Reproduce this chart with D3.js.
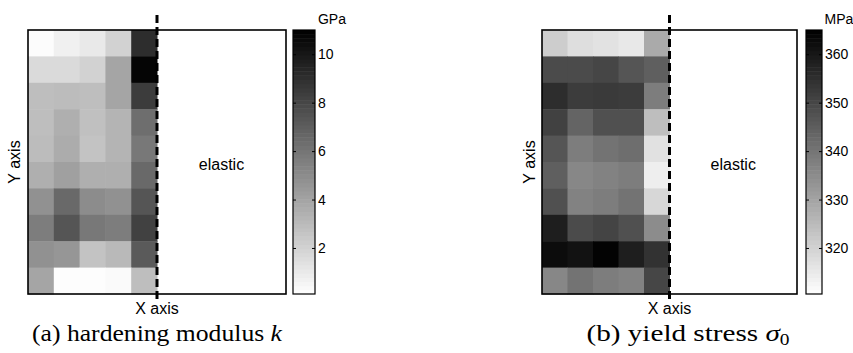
<!DOCTYPE html>
<html>
<head>
<meta charset="utf-8">
<script src="https://cdn.jsdelivr.net/npm/d3@7"></script>
<style>
  html, body { margin: 0; padding: 0; background: #fff; }
  svg { display: block; }
</style>
</head>
<body>
<svg id="chart" width="853" height="353"></svg>
<script>
// hardening modulus k [GPa], rows top -> bottom, 5 columns each
const kValues = [
  [0.23, 0.74, 1.04, 2.02, 9.08],
  [1.68, 1.68, 2.02, 3.95, 10.79],
  [2.88, 2.96, 2.88, 3.95, 8.44],
  [2.88, 3.52, 2.79, 3.31, 6.30],
  [2.96, 3.65, 2.66, 3.31, 5.87],
  [3.52, 4.16, 3.52, 3.52, 6.51],
  [4.80, 6.51, 5.02, 4.80, 7.37],
  [5.66, 7.37, 5.87, 5.66, 8.22],
  [4.80, 4.59, 2.66, 3.09, 7.15],
  [3.95, 0.19, 0.19, 0.31, 2.88]
];
// yield stress sigma_0 [MPa]
const sigmaValues = [
  [321.2, 317.6, 316.7, 315.4, 328.7],
  [349.0, 349.0, 350.0, 346.8, 344.7],
  [355.4, 352.2, 352.6, 352.2, 338.3],
  [351.1, 343.6, 347.9, 347.9, 324.4],
  [346.8, 338.3, 340.4, 341.5, 316.9],
  [344.7, 336.1, 337.2, 338.3, 314.1],
  [347.9, 337.2, 338.3, 340.4, 319.0],
  [358.6, 349.0, 350.5, 347.9, 335.1],
  [362.4, 361.1, 364.4, 358.6, 354.3],
  [336.1, 340.4, 338.3, 337.2, 350.0]
];
const kTicks = [2, 4, 6, 8, 10];
const sigmaTicks = [320, 330, 340, 350, 360];
const kRange = [0.1, 11];
const sigmaRange = [310.5, 365];

const panels = [
  {data: kValues, range: kRange, ticks: kTicks, unit: "GPa", left: 28, right: 286, cbLeft: 293, cbRight: 315,
   caption: ["(a) hardening modulus ", "k", ""], capX: 157, capWidth: 250, ylab: 20},
  {data: sigmaValues, range: sigmaRange, ticks: sigmaTicks, unit: "MPa", left: 542, right: 797, cbLeft: 806, cbRight: 822,
   caption: ["(b) yield stress ", "σ", "0"], capX: 688, capWidth: 203, ylab: 535}
];

const plotTop = 30, plotBottom = 294;
const sans = "'Liberation Sans', Arial, sans-serif";
const serif = "'Liberation Serif', 'DejaVu Serif', serif";

const svg = d3.select("#chart");

panels.forEach(p => {
  const g = svg.append("g");
  const x = d3.scaleLinear().domain([0, 10]).range([p.left, p.right]);
  const y = d3.scaleLinear().domain([0, 10]).range([plotTop, plotBottom]);
  const color = d3.scaleLinear().domain(p.range).range(["#ffffff", "#000000"]).clamp(true);

  // heatmap cells
  const cells = p.data.flatMap((row, r) => row.map((v, c) => ({r, c, v})));
  g.selectAll("rect.cell")
    .data(cells)
    .join("rect")
    .attr("class", "cell")
    .attr("x", d => x(d.c))
    .attr("y", d => y(d.r))
    .attr("width", x(1) - x(0) + 0.5)
    .attr("height", y(1) - y(0) + 0.5)
    .attr("fill", d => color(d.v));

  // box
  g.append("rect")
    .attr("x", p.left).attr("y", plotTop)
    .attr("width", p.right - p.left).attr("height", plotBottom - plotTop)
    .attr("fill", "none").attr("stroke", "#000").attr("stroke-width", 1.6);

  // dashed boundary at x = 5
  g.append("line")
    .attr("x1", x(5)).attr("x2", x(5))
    .attr("y1", 15).attr("y2", plotBottom + 6)
    .attr("stroke", "#000").attr("stroke-width", 3)
    .attr("stroke-dasharray", "8,4");

  g.append("text")
    .attr("x", (x(5) + x(10)) / 2).attr("y", 170)
    .attr("text-anchor", "middle")
    .style("font", `16px ${sans}`)
    .text("elastic");

  // axis labels
  g.append("text")
    .attr("x", x(5)).attr("y", 314)
    .attr("text-anchor", "middle")
    .style("font", `16px ${sans}`)
    .text("X axis");
  g.append("text")
    .attr("transform", `translate(${p.ylab},${y(5)}) rotate(-90)`)
    .attr("text-anchor", "middle")
    .style("font", `16px ${sans}`)
    .text("Y axis");

  // colorbar
  const cy = d3.scaleLinear().domain(p.range).range([plotBottom, plotTop]);
  const step = (p.range[1] - p.range[0]) / 64;
  const levels = d3.range(64).map(i => p.range[0] + (i + 0.5) * step);
  g.selectAll("rect.cb")
    .data(levels)
    .join("rect")
    .attr("class", "cb")
    .attr("x", p.cbLeft)
    .attr("y", d => cy(d + step / 2))
    .attr("width", p.cbRight - p.cbLeft)
    .attr("height", cy(p.range[0]) - cy(p.range[0] + step) + 0.5)
    .attr("fill", d => color(d));
  g.append("rect")
    .attr("x", p.cbLeft).attr("y", plotTop)
    .attr("width", p.cbRight - p.cbLeft).attr("height", plotBottom - plotTop)
    .attr("fill", "none").attr("stroke", "#000").attr("stroke-width", 1.2);

  g.append("g")
    .attr("transform", `translate(${p.cbRight},0)`)
    .call(d3.axisRight(cy).tickValues(p.ticks).tickSize(-3).tickPadding(3))
    .call(a => a.select(".domain").remove())
    .call(a => a.selectAll("text").style("font", `14px ${sans}`).attr("fill", "#000"));
  g.append("g")
    .attr("transform", `translate(${p.cbLeft},0)`)
    .call(d3.axisLeft(cy).tickValues(p.ticks).tickSize(-3).tickFormat(""))
    .call(a => a.select(".domain").remove());

  g.append("text")
    .attr("x", p.cbRight + 17).attr("y", 24)
    .attr("text-anchor", "middle")
    .style("font", `14px ${sans}`)
    .text(p.unit);

  // caption
  const cap = g.append("text")
    .attr("x", p.capX).attr("y", 341)
    .attr("text-anchor", "middle")
    .attr("textLength", p.capWidth)
    .attr("lengthAdjust", "spacingAndGlyphs")
    .style("font", `24px ${serif}`);
  cap.append("tspan").text(p.caption[0]);
  cap.append("tspan").style("font-style", "italic").text(p.caption[1]);
  if (p.caption[2]) cap.append("tspan").attr("dy", 4).style("font-size", "16px").text(p.caption[2]);
});
</script>
</body>
</html>
